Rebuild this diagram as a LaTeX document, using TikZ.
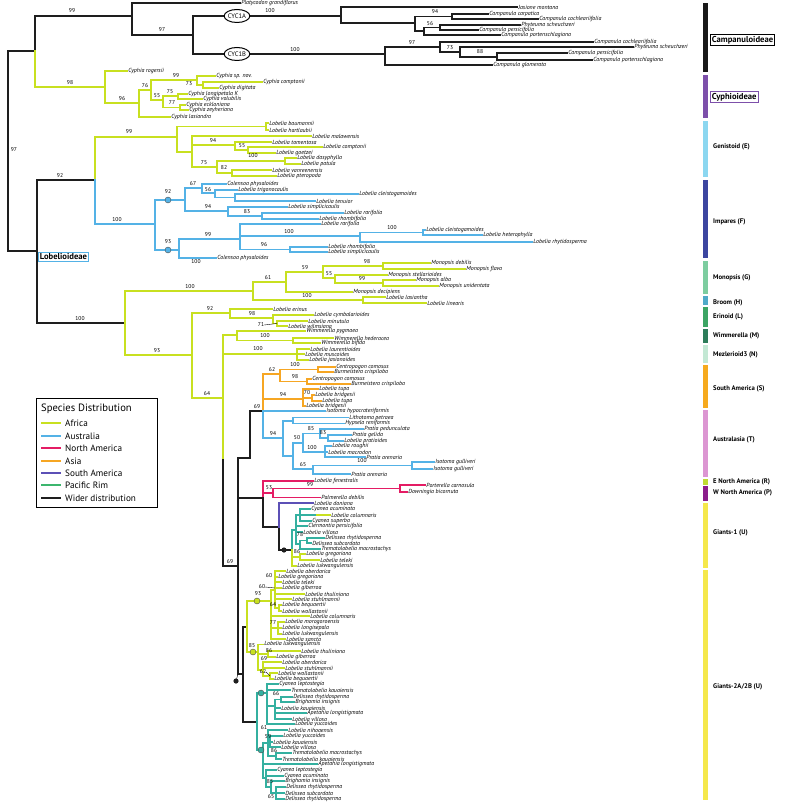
\documentclass[tikz,border=0pt]{standalone}
\usepackage{fontspec}
\setmainfont{PT Sans}
\usetikzlibrary{shapes.geometric, positioning}
\definecolor{wider}{RGB}{30,30,30}
\definecolor{africa}{RGB}{200,224,32}
\definecolor{austral}{RGB}{84,178,230}
\definecolor{namer}{RGB}{228,28,100}
\definecolor{asia}{RGB}{246,166,35}
\definecolor{samer}{RGB}{92,80,182}
\definecolor{pacific}{RGB}{52,176,160}
\definecolor{pacleg}{RGB}{60,182,110}
\definecolor{campbar}{RGB}{25,25,25}
\definecolor{cyphbar}{RGB}{125,80,170}
\definecolor{genbar}{RGB}{140,215,240}
\definecolor{impbar}{RGB}{60,70,160}
\definecolor{monbar}{RGB}{125,205,160}
\definecolor{broombar}{RGB}{80,170,200}
\definecolor{erinbar}{RGB}{60,165,100}
\definecolor{wimbar}{RGB}{45,125,90}
\definecolor{mezbar}{RGB}{195,232,212}
\definecolor{sambar}{RGB}{246,170,30}
\definecolor{ausbar}{RGB}{220,150,210}
\definecolor{enabar}{RGB}{190,220,50}
\definecolor{wnabar}{RGB}{140,30,140}
\definecolor{giantbar}{RGB}{245,232,75}

\begin{document}
\begin{tikzpicture}[
    x=1pt, y=-1pt,
    br/.style={line width=1.1pt, draw=#1, line cap=rect},
    sp/.style={anchor=west, inner sep=1.2pt, font=\fontsize{5.9}{6}\selectfont\itshape},
    bs/.style={inner sep=0pt, font=\fontsize{5.6}{6}\selectfont},
    cyc/.style={ellipse, draw, line width=1pt, fill=white, inner sep=0pt, minimum height=13pt, font=\fontsize{6.6}{7}\selectfont},
    supp/.style={circle, draw=black!70, line width=0.4pt, fill=#1, inner sep=0pt, minimum size=6pt},
    bar/.style={fill=#1, draw=none},
    cladelab/.style={anchor=west, inner sep=0pt, font=\fontsize{6.7}{7}\selectfont\bfseries},
    famlab/.style={anchor=west, draw=#1, line width=0.8pt, inner sep=1.5pt, font=\fontsize{8.6}{9}\selectfont\bfseries},
    legt/.style={anchor=west, inner sep=0pt, font=\fontsize{9.2}{10}\selectfont},
    sw/.style={line width=2pt, draw=#1}
]
\useasboundingbox (0,0) rectangle (784,802);

    % Campanuloideae
    \coordinate (root) at (8,51);
    \coordinate (cc) at (35,51);
    \coordinate (camp) at (132,16);
    \coordinate (cyc) at (193,35);
    \coordinate (c1a) at (341,16);
    \coordinate (n2) at (415,23);
    \coordinate (n3) at (452,16.5);
    \coordinate (n4) at (424,31);
    \coordinate (n5) at (440,27.5);
    \coordinate (c1b) at (385,54);
    \coordinate (m1) at (440,47);
    \coordinate (m2) at (460,52);
    \coordinate (m3) at (497,57);
    \node[sp] (platy) at (240,3) {Platycodon grandiflorus};
    \node[sp] (jas) at (517,7) {Jasione montana};
    \node[sp] (carp) at (488,14) {Campanula carpatica};
    \node[sp] (coch1) at (538,19) {Campanula cochleariifolia};
    \node[sp] (phy1) at (520,25) {Phyteuma scheuchzeri};
    \node[sp] (pers1) at (478,30) {Campanula persicifolia};
    \node[sp] (port1) at (500,35) {Campanula portenschlagiana};
    \node[sp] (coch2) at (593,42) {Campanula cochleariifolia};
    \node[sp] (phy2) at (633,47) {Phyteuma scheuchzeri};
    \node[sp] (pers2) at (567,53) {Campanula persicifolia};
    \node[sp] (port2) at (592,60) {Campanula portenschlagiana};
    \node[sp] (glom) at (492,65) {Campanula glomerata};
    \draw[br=wider] (root) |- (cc) (cc) |- (camp) (camp) |- (platy) (camp) |- (cyc) (cyc) |- (c1a) (cyc) |- (c1b);
    \draw[br=wider] (c1a) |- (jas) (c1a) |- (n2) (n2) |- (n3) (n2) |- (n4) (n3) |- (carp) (n3) |- (coch1);
    \draw[br=wider] (n4) |- (n5) (n4) |- (port1) (n5) |- (phy1) (n5) |- (pers1);
    \draw[br=wider] (c1b) |- (m1) (c1b) |- (glom) (m1) |- (coch2) (m1) |- (m2) (m2) |- (phy2) (m2) |- (m3) (m3) |- (pers2) (m3) |- (port2);
    \node[cyc] (cyca) at (237,16) {CYC1A};
    \node[cyc] (cycb) at (237,54) {CYC1B};
    \node[bs] (b1) at (72,11) {99};
    \node[bs] (b2) at (162,30) {97};
    \node[bs] (b3) at (270,11) {100};
    \node[bs] (b4) at (295,50) {100};
    \node[bs] (b5) at (435,12) {94};
    \node[bs] (b6) at (430,24) {56};
    \node[bs] (b7) at (412,43) {97};
    \node[bs] (b8) at (450,48) {73};
    \node[bs] (b9) at (480,52) {88};

    % Cyphioideae
    \coordinate (cyph) at (105,87);
    \coordinate (cy1) at (139,103);
    \coordinate (cy2) at (151,90);
    \coordinate (cy3) at (197,80);
    \coordinate (cy3b) at (203,85);
    \coordinate (cy4) at (163,100);
    \coordinate (cy5) at (178,96);
    \coordinate (cy6) at (180,107.5);
    \node[sp] (roge) at (127,71) {Cyphia rogersii};
    \node[sp] (spnov) at (215,76) {Cyphia sp. nov.};
    \node[sp] (compt) at (262,82) {Cyphia comptonii};
    \node[sp] (digit) at (218,88) {Cyphia digitata};
    \node[sp] (longi) at (187,94) {Cyphia longipetala K};
    \node[sp] (volub) at (202,99) {Cyphia volubilis};
    \node[sp] (eckl) at (185,105) {Cyphia eckloniana};
    \node[sp] (zeyh) at (188,110) {Cyphia zeyheriana};
    \node[sp] (lasi) at (170,117) {Cyphia lasiandra};
    \draw[br=africa] (cc) |- (cyph) (cyph) |- (roge) (cyph) |- (cy1) (cy1) |- (cy2) (cy1) |- (lasi);
    \draw[br=africa] (cy2) |- (cy3) (cy2) |- (cy4) (cy3) |- (spnov) (cy3) |- (cy3b) (cy3b) |- (compt) (cy3b) |- (digit);
    \draw[br=africa] (cy4) |- (cy5) (cy4) |- (cy6) (cy5) |- (longi) (cy5) |- (volub) (cy6) |- (eckl) (cy6) |- (zeyh);
    \node[bs] (b10) at (70,83) {98};
    \node[bs] (b11) at (122,99) {96};
    \node[bs] (b12) at (145,86) {76};
    \node[bs] (b13) at (176,76) {99};
    \node[bs] (b14) at (189,84) {73};
    \node[bs] (b15) at (157,96) {55};
    \node[bs] (b16) at (170,91.5) {75};
    \node[bs] (b17) at (172,103) {77};

    % Lobelioideae
    \coordinate (lob) at (37,251);
    \coordinate (gi) at (95,180);
    \coordinate (rest) at (125,323);
    \draw[br=wider] (root) |- (lob) (lob) |- (gi) (lob) |- (rest);
    \node[famlab=austral] (lobl) at (38,257) {Lobelioideae};
    \node[bs] (b18) at (14,150) {97};
    \node[bs] (b19) at (60,176) {92};
    \node[bs] (b20) at (80,319) {100};

    % Genistoid
    \coordinate (gen) at (177,137);
    \coordinate (g1) at (266,126.5);
    \coordinate (g2) at (192,152);
    \coordinate (g3) at (235,145);
    \coordinate (g5) at (248,150);
    \coordinate (g4) at (217,167);
    \coordinate (g6) at (285,161);
    \coordinate (g7) at (232,173);
    \node[sp] (baum) at (268,123) {Lobelia baumannii};
    \node[sp] (hart) at (268,130) {Lobelia hartlaubii};
    \node[sp] (mala) at (311,136) {Lobelia malawensis};
    \node[sp] (tome) at (271,142) {Lobelia tomentosa};
    \node[sp] (comp2) at (322,147) {Lobelia comptonii};
    \node[sp] (goet) at (275,153) {Lobelia goetzei};
    \node[sp] (dasy) at (296,158) {Lobelia dasyphylla};
    \node[sp] (patu) at (300,164) {Lobelia patula};
    \node[sp] (vanr) at (271,170) {Lobelia vanreenensis};
    \node[sp] (pter) at (276,176) {Lobelia pteropoda};
    \draw[br=africa] (gi) |- (gen) (gen) |- (g1) (gen) |- (g2) (g1) |- (baum) (g1) |- (hart);
    \draw[br=africa] (g2) |- (mala) (g2) |- (g3) (g2) |- (g4) (g3) |- (tome) (g3) |- (g5) (g5) |- (comp2) (g5) |- (goet);
    \draw[br=africa] (g4) |- (g6) (g4) |- (g7) (g6) |- (dasy) (g6) |- (patu) (g7) |- (vanr) (g7) |- (pter);
    \node[bs] (b21) at (129,132) {99};
    \node[bs] (b22) at (213,141) {94};
    \node[bs] (b23) at (242,146) {55};
    \node[bs] (b24) at (204,163) {75};
    \node[bs] (b25) at (253,156) {100};
    \node[bs] (b26) at (224,168) {82};

    % Impares
    \coordinate (imp) at (155,224);
    \coordinate (i1) at (185,200);
    \coordinate (i2) at (179,250);
    \coordinate (i3) at (202,188);
    \coordinate (i5) at (215,193);
    \coordinate (i6) at (235,197.5);
    \coordinate (i4) at (228,211);
    \coordinate (i7) at (262,216);
    \coordinate (i8) at (240,239);
    \coordinate (i9) at (360,236);
    \coordinate (i11) at (423,232.5);
    \coordinate (i10) at (290,249.5);
    \node[sp] (cole1) at (226,184) {Colensoa physaloides};
    \node[sp] (trig) at (237,190) {Lobelia trigonocaulis};
    \node[sp] (cle1) at (358,194) {Lobelia cleistogamoides};
    \node[sp] (tenu) at (315,201) {Lobelia tenuior};
    \node[sp] (simp1) at (287,207) {Lobelia simplicicaulis};
    \node[sp] (rari1) at (343,213) {Lobelia rarifolia};
    \node[sp] (rhom1) at (318,219) {Lobelia rhombifolia};
    \node[sp] (rari2) at (320,224) {Lobelia rarifolia};
    \node[sp] (cle2) at (425,230) {Lobelia cleistogamoides};
    \node[sp] (hete) at (482,235) {Lobelia heterophylla};
    \node[sp] (rhyt) at (532,242) {Lobelia rhytidosperma};
    \node[sp] (rhom2) at (327,247) {Lobelia rhombifolia};
    \node[sp] (simp2) at (327,252) {Lobelia simplicicaulis};
    \node[sp] (cole2) at (216,258) {Colensoa physaloides};
    \draw[br=austral] (gi) |- (imp) (imp) |- (i1) (imp) |- (i2) (i1) |- (i3) (i1) |- (i4);
    \draw[br=austral] (i3) |- (cole1) (i3) |- (i5) (i5) |- (trig) (i5) |- (i6) (i6) |- (cle1) (i6) |- (tenu);
    \draw[br=austral] (i4) |- (simp1) (i4) |- (i7) (i7) |- (rari1) (i7) |- (rhom1);
    \draw[br=austral] (i2) |- (i8) (i2) |- (cole2) (i8) |- (rari2) (i8) |- (i9) (i8) |- (i10);
    \draw[br=austral] (i9) |- (i11) (i9) |- (rhyt) (i11) |- (cle2) (i11) |- (hete) (i10) |- (rhom2) (i10) |- (simp2);
    \node[supp=austral] (ci1) at (168,200) {};
    \node[supp=austral] (ci2) at (168,250) {};
    \node[bs] (b27) at (117,220) {100};
    \node[bs] (b28) at (168,191.5) {92};
    \node[bs] (b29) at (168,241.5) {93};
    \node[bs] (b30) at (193,184) {67};
    \node[bs] (b31) at (208,190) {56};
    \node[bs] (b32) at (208,207) {94};
    \node[bs] (b33) at (247,212) {83};
    \node[bs] (b34) at (208,235) {99};
    \node[bs] (b35) at (289,232) {100};
    \node[bs] (b36) at (392,228) {100};
    \node[bs] (b37) at (264,245) {96};
    \node[bs] (b38) at (196,262) {100};

    % Monopsis
    \coordinate (mon) at (253,291);
    \coordinate (m61) at (286,282);
    \coordinate (m59) at (323,272);
    \coordinate (m98) at (383,266);
    \coordinate (m55) at (335,278);
    \coordinate (m99) at (383,283);
    \coordinate (mlas) at (363,300);
    \node[sp] (debi) at (430,263) {Monopsis debilis};
    \node[sp] (flav) at (465,269) {Monopsis flava};
    \node[sp] (stel) at (387,275) {Monopsis stellarioides};
    \node[sp] (alba) at (415,280) {Monopsis alba};
    \node[sp] (unid) at (438,286) {Monopsis unidentata};
    \node[sp] (deci) at (352,292) {Monopsis decipiens};
    \node[sp] (lasa) at (385,297) {Lobelia lasiantha};
    \node[sp] (line) at (426,303) {Lobelia linearis};
    \draw[br=africa] (rest) |- (mon) (mon) |- (m61) (mon) |- (mlas) (m61) |- (m59) (m61) |- (deci) (m59) |- (m98) (m59) |- (m55);
    \draw[br=africa] (m98) |- (debi) (m98) |- (flav) (m55) |- (stel) (m55) |- (m99) (m99) |- (alba) (m99) |- (unid) (mlas) |- (lasa) (mlas) |- (line);
    \node[bs] (b39) at (190,287) {100};
    \node[bs] (b40) at (268,278) {61};
    \node[bs] (b41) at (305,268) {59};
    \node[bs] (b42) at (367,262) {98};
    \node[bs] (b43) at (329,274) {55};
    \node[bs] (b44) at (362,279) {99};
    \node[bs] (b45) at (307,296) {100};

    % Erinoid, Wimmerella, Mezlerioid
    \coordinate (af1) at (192,355);
    \coordinate (ern) at (230,313);
    \coordinate (e98) at (273,318);
    \coordinate (e71) at (277,323.5);
    \coordinate (wn) at (223,398);
    \coordinate (wnl) at (223,458);
    \coordinate (wim) at (237,335);
    \coordinate (w100) at (293,340.5);
    \coordinate (mez) at (297,354);
    \node[sp] (erin) at (272,309) {Lobelia erinus};
    \node[sp] (cymb) at (313,315) {Lobelia cymbalarioides};
    \node[sp] (minu) at (307,321) {Lobelia minutula};
    \node[sp] (wilm) at (287,326) {Lobelia wilmsiana};
    \node[sp] (pygm) at (305,331) {Wimmerella pygmaea};
    \node[sp] (hede) at (333,338) {Wimmerella hederacea};
    \node[sp] (bifi) at (320,343) {Wimmerella bifida};
    \node[sp] (laur) at (309,349) {Lobelia laurentioides};
    \node[sp] (musc) at (304,354) {Lobelia muscoides};
    \node[sp] (jasi) at (308,360) {Lobelia jasionoides};
    \draw[br=africa] (rest) |- (af1) (af1) |- (ern) (af1) |- (wn) (ern) |- (erin) (ern) |- (e98) (e98) |- (cymb) (e98) |- (e71) (e71) |- (minu) (e71) |- (wilm);
    \draw[br=africa] (wn) |- (wim) (wn) |- (mez) (wim) |- (pygm) (wim) |- (w100) (w100) |- (hede) (w100) |- (bifi);
    \draw[br=africa] (mez) |- (laur) (mez) |- (musc) (mez) |- (jasi);
    \node[bs] (b46) at (157,351) {93};
    \node[bs] (b47) at (210,309) {92};
    \node[bs] (b48) at (252,314) {98};
    \node[bs] (b49) at (261,325) {71};
    \draw[line width=0.4pt] (b49.east) -- (e71);
    \node[bs] (b50) at (207,394) {64};
    \node[bs] (b51) at (265,336) {100};
    \node[bs] (b52) at (258,349) {100};

    % Backbone of the remaining clades
    \coordinate (cx) at (238,566);
    \coordinate (cy) at (250,458);
    \coordinate (aus) at (263,411);
    \coordinate (pk) at (263,498);
    \coordinate (gv) at (243,674);
    \draw[br=wider] (wn) |- (cx) (cx) |- (cy) (cy) |- (aus) (cx) |- (pk) (cx) |- (gv);
    \draw[br=africa] (wn) -- (wnl);
    \node[bs] (b53) at (230,562) {69};

    % South America (Asia colour)
    \coordinate (so) at (263,386);
    \coordinate (o62) at (280,374);
    \coordinate (o100) at (318,369.5);
    \coordinate (o98) at (307,381.5);
    \coordinate (o94) at (303,399);
    \coordinate (o70) at (312,398);
    \node[sp] (como1) at (335,367) {Centropogon comosus};
    \node[sp] (cris1) at (333,372) {Burmeistera crispiloba};
    \node[sp] (como2) at (311,379) {Centropogon comosus};
    \node[sp] (cris2) at (350,384) {Burmeistera crispiloba};
    \node[sp] (tupa1) at (318,389) {Lobelia tupa};
    \node[sp] (brid1) at (314,395) {Lobelia bridgesii};
    \node[sp] (tupa2) at (321,401) {Lobelia tupa};
    \node[sp] (brid2) at (305,406) {Lobelia bridgesii};
    \draw[br=asia] (aus) |- (so) (so) |- (o62) (so) |- (o94) (o62) |- (o100) (o62) |- (o98) (o100) |- (como1) (o100) |- (cris1) (o98) |- (como2) (o98) |- (cris2);
    \draw[br=asia] (o94) |- (tupa1) (o94) |- (o70) (o94) |- (brid2) (o70) |- (brid1) (o70) |- (tupa2);
    \node[bs] (b54) at (272,370) {62};
    \node[bs] (b55) at (295,365) {100};
    \node[bs] (b56) at (295,377) {98};
    \node[bs] (b57) at (283,395) {94};
    \node[bs] (b58) at (307,393) {70};
    \node[bs] (b59) at (257,407) {69};

    % Australasia
    \coordinate (a94) at (283,438);
    \coordinate (a1) at (293,421);
    \coordinate (a2) at (293,456);
    \coordinate (a50) at (303,443);
    \coordinate (a85) at (320,433.5);
    \coordinate (a83) at (328,438);
    \coordinate (a100) at (325,452);
    \coordinate (a65) at (313,469);
    \coordinate (a100b) at (412,465.5);
    \node[sp] (isoh) at (325,411) {Isotoma hypocrateriformis};
    \node[sp] (lith) at (348,417.5) {Lithotoma petraea};
    \node[sp] (hyps) at (344,423.5) {Hypsela reniformis};
    \node[sp] (pedu) at (363,429) {Pratia pedunculata};
    \node[sp] (geli) at (351,435) {Pratia gelida};
    \node[sp] (prat) at (343,441) {Lobelia pratioides};
    \node[sp] (roug) at (331,446) {Lobelia roughii};
    \node[sp] (macr) at (327,452) {Lobelia macrodon};
    \node[sp] (are1) at (365,457) {Pratia arenaria};
    \node[sp] (gul1) at (434,462) {Isotoma gulliveri};
    \node[sp] (gul2) at (432,469) {Isotoma gulliveri};
    \node[sp] (are2) at (350,474) {Pratia arenaria};
    \draw[br=austral] (aus) |- (isoh) (aus) |- (a94) (a94) |- (a1) (a94) |- (a2) (a1) |- (lith) (a1) |- (hyps);
    \draw[br=austral] (a2) |- (a50) (a2) |- (a65) (a50) |- (a85) (a50) |- (a100) (a85) |- (pedu) (a85) |- (a83) (a83) |- (geli) (a83) |- (prat);
    \draw[br=austral] (a100) |- (roug) (a100) |- (macr) (a100) |- (are1) (a65) |- (a100b) (a65) |- (are2) (a100b) |- (gul1) (a100b) |- (gul2);
    \node[bs] (b60) at (273,434) {94};
    \node[bs] (b61) at (297,438) {50};
    \node[bs] (b62) at (311,429) {85};
    \node[bs] (b63) at (323,433) {83};
    \node[bs] (b64) at (312,448) {100};
    \node[bs] (b65) at (362,461) {100};
    \node[bs] (b66) at (303,465) {65};

    % North America
    \coordinate (p53) at (273,493);
    \coordinate (p99) at (400,488.5);
    \node[sp] (fene) at (313,481) {Lobelia fenestralis};
    \node[sp] (port) at (425,485) {Porterella carnosula};
    \node[sp] (down) at (407,492) {Downingia bicornuta};
    \node[sp] (palm) at (320,497.5) {Palmerella debilis};
    \draw[br=namer] (pk) |- (fene) (pk) |- (p53) (p53) |- (p99) (p53) |- (palm) (p99) |- (port) (p99) |- (down);
    \node[bs] (b67) at (269,488) {53};
    \node[bs] (b68) at (310,485) {99};

    % Giants-1
    \coordinate (gs) at (279,527);
    \coordinate (g1n) at (292,550);
    \coordinate (ta) at (296,530);
    \coordinate (tb) at (300,515);
    \coordinate (colx) at (317,515);
    \coordinate (t78) at (300,544);
    \coordinate (t78a) at (307,540.5);
    \coordinate (g86) at (300,557);
    \node[sp] (doni) at (313,503) {Lobelia doniana};
    \node[sp] (cacu1) at (310,509) {Cyanea acuminata};
    \node[sp] (colu1) at (330,515) {Lobelia columnaris};
    \node[sp] (csup) at (311,521) {Cyanea superba};
    \node[sp] (cler) at (307,526) {Clermontia persicifolia};
    \node[sp] (vil1) at (302,532) {Lobelia villosa};
    \node[sp] (drh1) at (324,538) {Delissea rhytidosperma};
    \node[sp] (dsu1) at (311,543) {Delissea subcordata};
    \node[sp] (tre1) at (320,549) {Trematolobelia macrostachys};
    \node[sp] (gre1) at (305,554) {Lobelia gregoriana};
    \node[sp] (tel1) at (319,560) {Lobelia teleki};
    \node[sp] (luk1) at (296,566) {Lobelia lukwangulensis};
    \draw[br=wider] (pk) |- (gs) (gs) |- (g1n);
    \draw[br=samer] (gs) |- (doni);
    \draw[br=pacific] (g1n) |- (ta) (ta) |- (tb) (ta) |- (cler) (ta) |- (vil1) (ta) |- (t78) (tb) |- (cacu1) (tb) |- (colu1) (tb) |- (csup);
    \draw[br=pacific] (t78) |- (t78a) (t78) |- (tre1) (t78a) |- (drh1) (t78a) |- (dsu1);
    \draw[br=africa] (colx) -- (colu1);
    \draw[br=africa] (g1n) |- (g86) (g1n) |- (luk1) (g86) |- (gre1) (g86) |- (tel1);
    \fill[wider] (284,550) circle (2.6pt);
    \node[bs] (b69) at (300,535) {78};
    \node[bs] (b70) at (297,552) {86};

    % Giants-2A
    \coordinate (gu) at (247,627);
    \coordinate (n93) at (271,601);
    \coordinate (na) at (275,590);
    \coordinate (a64) at (279,608);
    \coordinate (n77) at (278,628);
    \coordinate (n85) at (258,652);
    \coordinate (n86) at (268,654);
    \coordinate (n69) at (263,670);
    \coordinate (n62) at (270,676);
    \node[sp] (abe1) at (285,571) {Lobelia aberdarica};
    \node[sp] (gre2) at (277,577) {Lobelia gregoriana};
    \node[sp] (tel2) at (281,582) {Lobelia teleki};
    \node[sp] (gib1) at (281,588) {Lobelia giberroa};
    \node[sp] (thu1) at (304,594) {Lobelia thuliniana};
    \node[sp] (stu1) at (291,599) {Lobelia stuhlmannii};
    \node[sp] (beq1) at (281,605) {Lobelia bequaertii};
    \node[sp] (wol1) at (281,611) {Lobelia wollastonii};
    \node[sp] (colu2) at (309,616) {Lobelia columnaris};
    \node[sp] (moro) at (284,622) {Lobelia morogoroensis};
    \node[sp] (lons) at (281,628) {Lobelia longisepala};
    \node[sp] (luk2) at (281,634) {Lobelia lukwangulensis};
    \node[sp] (sanc) at (285,639) {Lobelia sancta};
    \node[sp] (luk3) at (263,644.5) {Lobelia lukwangulensis};
    \node[sp] (thu2) at (300,651) {Lobelia thuliniana};
    \node[sp] (gib2) at (275,657) {Lobelia giberroa};
    \node[sp] (abe2) at (281,662) {Lobelia aberdarica};
    \node[sp] (stu2) at (284,668) {Lobelia stuhlmannii};
    \node[sp] (wol2) at (277,673) {Lobelia wollastonii};
    \node[sp] (beq2) at (273,679) {Lobelia bequaertii};
    \draw[br=wider] (gv) |- (gu);
    \draw[br=africa] (gu) |- (n93) (gu) |- (n85) (n93) |- (na) (n93) |- (colu2) (n93) |- (n77) (n93) |- (sanc);
    \draw[br=africa] (na) |- (abe1) (na) |- (gre2) (na) |- (tel2) (na) |- (gib1) (na) |- (thu1) (na) |- (stu1) (na) |- (a64) (a64) |- (beq1) (a64) |- (wol1);
    \draw[br=africa] (n77) |- (moro) (n77) |- (lons) (n77) |- (luk2);
    \draw[br=africa] (n85) |- (luk3) (n85) |- (n86) (n85) |- (n69) (n86) |- (thu2) (n86) |- (gib2) (n69) |- (abe2) (n69) |- (stu2) (n69) |- (n62) (n62) |- (wol2) (n62) |- (beq2);
    \node[supp=africa] (ci3) at (257,601) {};
    \node[supp=africa] (ci4) at (253,652) {};
    \node[bs] (b71) at (258,594) {93};
    \node[bs] (b72) at (269,576) {60};
    \node[bs] (b73) at (262,587) {60};
    \draw[line width=0.4pt] (b73.east) -- (275,588);
    \node[bs] (b74) at (273,605) {64};
    \node[bs] (b75) at (273,623) {77};
    \node[bs] (b76) at (252,646) {85};
    \node[bs] (b77) at (269,650.5) {86};
    \node[bs] (b78) at (264,659) {69};
    \node[bs] (b79) at (263,672) {62};
    \draw[line width=0.4pt] (b79.east) -- (n62);

    % Giants-2B (Pacific)
    \coordinate (pr) at (257,722);
    \coordinate (p1) at (267,693);
    \coordinate (n66) at (275,706);
    \coordinate (n66a) at (281,699.5);
    \coordinate (p2) at (263,750);
    \coordinate (n61) at (268,743);
    \coordinate (n59) at (270,742);
    \coordinate (n86b) at (276,756);
    \coordinate (nc) at (266,778);
    \coordinate (n85b) at (271,787);
    \coordinate (n65) at (276,793);
    \coordinate (dotx) at (238,674);
    \node[sp] (lep1) at (278,684) {Cyanea leptostegia};
    \node[sp] (tka1) at (290,690) {Trematolobelia kauaiensis};
    \node[sp] (drh2) at (292,697) {Delissea rhytidosperma};
    \node[sp] (bri1) at (294,702) {Brighamia insignis};
    \node[sp] (lka1) at (280,708) {Lobelia kauaiensis};
    \node[sp] (ape1) at (306,713) {Apetahia longistigmata};
    \node[sp] (vil2) at (291,719) {Lobelia villosa};
    \node[sp] (yuc1) at (294,724) {Lobelia yuccoides};
    \node[sp] (niho) at (287,730) {Lobelia nihoaensis};
    \node[sp] (yuc2) at (282,736) {Lobelia yuccoides};
    \node[sp] (lka2) at (272,742) {Lobelia kauaiensis};
    \node[sp] (vil3) at (280,747) {Lobelia villosa};
    \node[sp] (tre2) at (291,753) {Trematolobelia macrostachys};
    \node[sp] (tka2) at (281,759) {Trematolobelia kauaiensis};
    \node[sp] (ape2) at (317,764) {Apetahia longistigmata};
    \node[sp] (lep2) at (276,770) {Cyanea leptostegia};
    \node[sp] (cacu2) at (283,776) {Cyanea acuminata};
    \node[sp] (bri2) at (284,781) {Brighamia insignis};
    \node[sp] (drh3) at (285,787) {Delissea rhytidosperma};
    \node[sp] (dsu2) at (284,793) {Delissea subcordata};
    \node[sp] (drh4) at (284,799) {Delissea rhytidosperma};
    \draw[br=wider] (gv) |- (pr);
    \draw[br=pacific] (pr) |- (p1) (pr) |- (p2) (p1) |- (lep1) (p1) |- (tka1) (p1) |- (n66) (p1) |- (yuc1);
    \draw[br=pacific] (n66) |- (n66a) (n66) |- (lka1) (n66) |- (ape1) (n66) |- (vil2) (n66a) |- (drh2) (n66a) |- (bri1);
    \draw[br=pacific] (p2) |- (n61) (p2) |- (ape2) (p2) |- (nc) (n61) |- (niho) (n61) |- (n59) (n61) |- (n86b);
    \draw[br=pacific] (n59) |- (yuc2) (n59) |- (lka2) (n59) |- (vil3) (n86b) |- (tre2) (n86b) |- (tka2);
    \draw[br=pacific] (nc) |- (lep2) (nc) |- (cacu2) (nc) |- (n85b) (n85b) |- (bri2) (n85b) |- (n65) (n65) |- (drh3) (n65) |- (dsu2) (n65) |- (drh4);
    \node[supp=pacific] (ci5) at (261,693) {};
    \node[supp=pacific] (ci6) at (261,750) {};
    \fill[wider] (236,681) circle (2.6pt);
    \draw[line width=0.5pt, wider] (dotx) -- (236,681);
    \node[bs] (b80) at (276,694) {66};
    \node[bs] (b81) at (264,728) {61};
    \node[bs] (b82) at (268,737) {59};
    \node[bs] (b83) at (274,751) {86};
    \node[bs] (b84) at (270,782) {85};
    \node[bs] (b85) at (271,797) {65};

    % Clade bars
    \fill[bar=campbar] (703,3) rectangle (708,72);
    \fill[bar=cyphbar] (703,75) rectangle (708,118);
    \fill[bar=genbar] (703,121) rectangle (708,177);
    \fill[bar=impbar] (703,180) rectangle (708,258);
    \fill[bar=monbar] (703,261) rectangle (708,294);
    \fill[bar=broombar] (703,296) rectangle (708,305);
    \fill[bar=erinbar] (703,307) rectangle (708,327);
    \fill[bar=wimbar] (703,328.5) rectangle (708,343);
    \fill[bar=mezbar] (703,345) rectangle (708,363);
    \fill[bar=sambar] (703,365) rectangle (708,408);
    \fill[bar=ausbar] (703,410) rectangle (708,477);
    \fill[bar=enabar] (703,478.5) rectangle (708,484.5);
    \fill[bar=wnabar] (703,486) rectangle (708,501);
    \fill[bar=giantbar] (703,502.5) rectangle (708,568);
    \fill[bar=giantbar] (703,570) rectangle (708,800);
    \node[famlab=black] (lcamp) at (710,40) {Campanuloideae};
    \node[famlab=cyphbar] (lcyph) at (710,97) {Cyphioideae};
    \node[cladelab] (lgen) at (713,147) {Genistoid (E)};
    \node[cladelab] (limp) at (713,222) {Impares (F)};
    \node[cladelab] (lmon) at (713,278) {Monopsis (G)};
    \node[cladelab] (lbro) at (713,303) {Broom (H)};
    \node[cladelab] (lern) at (713,317) {Erinoid (L)};
    \node[cladelab] (lwim) at (713,336) {Wimmerella (M)};
    \node[cladelab] (lmez) at (713,355) {Mezlerioid3 (N)};
    \node[cladelab] (lsam) at (713,389) {South America (S)};
    \node[cladelab] (laus) at (713,440) {Australasia (T)};
    \node[cladelab] (lena) at (713,482) {E North America (R)};
    \node[cladelab] (lwna) at (713,493) {W North America (P)};
    \node[cladelab] (lgi1) at (713,533) {Giants-1 (U)};
    \node[cladelab] (lgi2) at (713,687) {Giants-2A/2B (U)};

    % Legend
    \draw[line width=1pt, fill=white] (36,398) rectangle (157,507);
    \node[legt, font=\fontsize{10.6}{11}\selectfont] (ltitle) at (41,409) {Species Distribution};
    \node[legt] (l1) at (65,423) {Africa};
    \node[legt] (l2) at (65,436) {Australia};
    \node[legt] (l3) at (65,448) {North America};
    \node[legt] (l4) at (65,461) {Asia};
    \node[legt] (l5) at (65,473) {South America};
    \node[legt] (l6) at (65,485) {Pacific Rim};
    \node[legt] (l7) at (65,498) {Wider distribution};
    \draw[sw=africa] ([xshift=-24pt]l1.west) -- ([xshift=-4pt]l1.west);
    \draw[sw=austral] ([xshift=-24pt]l2.west) -- ([xshift=-4pt]l2.west);
    \draw[sw=namer] ([xshift=-24pt]l3.west) -- ([xshift=-4pt]l3.west);
    \draw[sw=asia] ([xshift=-24pt]l4.west) -- ([xshift=-4pt]l4.west);
    \draw[sw=samer] ([xshift=-24pt]l5.west) -- ([xshift=-4pt]l5.west);
    \draw[sw=pacleg] ([xshift=-24pt]l6.west) -- ([xshift=-4pt]l6.west);
    \draw[sw=wider] ([xshift=-24pt]l7.west) -- ([xshift=-4pt]l7.west);
\end{tikzpicture}
\end{document}
